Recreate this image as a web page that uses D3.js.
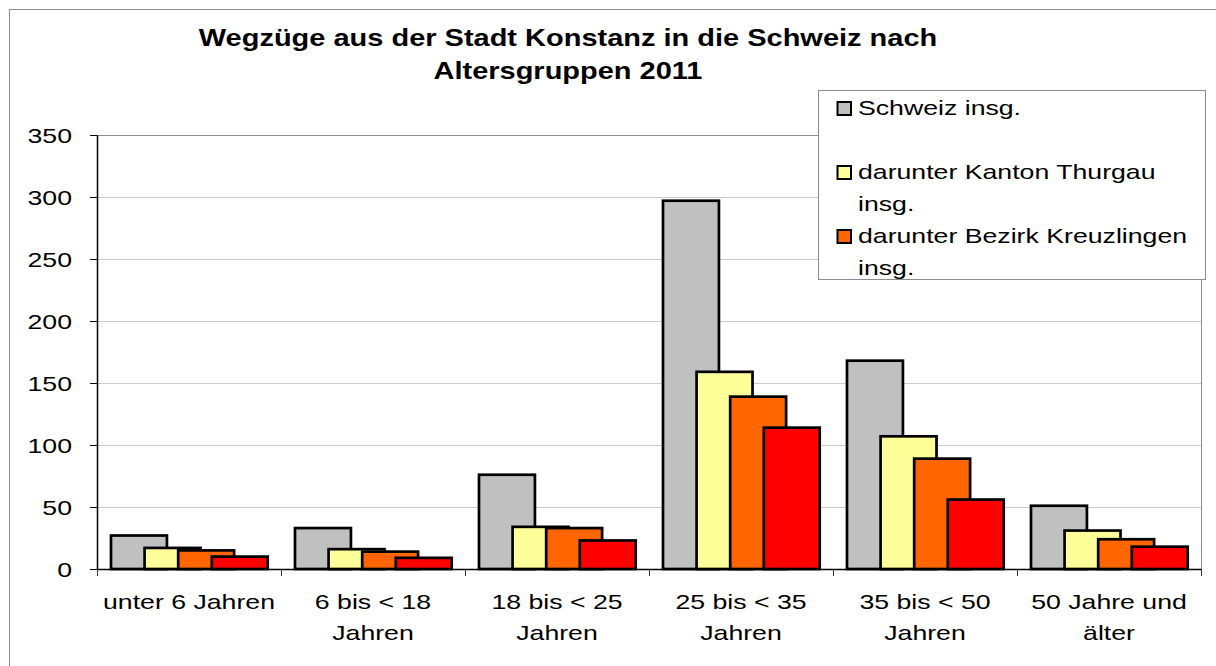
<!DOCTYPE html>
<html>
<head>
<meta charset="utf-8">
<script src="https://cdn.jsdelivr.net/npm/d3@7"></script>
<style>
	html, body { margin: 0; padding: 0; background: #fff; }
	svg { display: block; font-family: "Liberation Sans", Arial, sans-serif; }
</style>
</head>
<body>
<div id="chart"></div>
<script>
// Data
const categories = ['unter 6 Jahren', '6 bis < 18 Jahren', '18 bis < 25 Jahren', '25 bis < 35 Jahren', '35 bis < 50 Jahren', '50 Jahre und älter'];
const categoryLines = [
	['unter 6 Jahren'],
	['6 bis < 18', 'Jahren'],
	['18 bis < 25', 'Jahren'],
	['25 bis < 35', 'Jahren'],
	['35 bis < 50', 'Jahren'],
	['50 Jahre und', 'älter']
];
const seriesNames = ['Schweiz insg.', 'darunter Kanton Thurgau insg.', 'darunter Bezirk Kreuzlingen insg.', 'darunter Stadt Kreuzlingen'];
const schweiz = [27, 33, 76, 297, 168, 51];
const thurgau = [17, 16, 34, 159, 107, 31];
const bezirkKreuzlingen = [15, 14, 33, 139, 89, 24];
const stadtKreuzlingen = [10, 9, 23, 114, 56, 18];
const seriesColors = ['#c0c0c0', '#ffff99', '#ff6600', '#ff0000'];
const yTicks = [0, 50, 100, 150, 200, 250, 300, 350];
// Legend shows only the first three series (the fourth is cut off in the original)
const legendLines = [
	{ series: 0, lines: ['Schweiz insg.'] },
	{ series: null, lines: [''] },
	{ series: 1, lines: ['darunter Kanton Thurgau', 'insg.'] },
	{ series: 2, lines: ['darunter Bezirk Kreuzlingen', 'insg.'] }
];

const seriesValues = [schweiz, thurgau, bezirkKreuzlingen, stadtKreuzlingen];

const width = 1216, height = 666;
const sx = 1.27; // the source picture is stretched sideways, text included
const fontSize = 21;
const plot = { left: 97, right: 1201, top: 135, bottom: 569 };

const svg = d3.select('#chart').append('svg')
	.attr('width', width)
	.attr('height', height);

// Outer chart border (runs off the right and bottom edge)
svg.append('rect')
	.attr('x', 9.5).attr('y', 9.5)
	.attr('width', width + 20).attr('height', height + 20)
	.attr('fill', '#fff')
	.attr('stroke', '#8c8c8c');

const x = d3.scaleBand()
	.domain(categories)
	.range([plot.left, plot.right]);

const y = d3.scaleLinear()
	.domain([0, 350])
	.range([plot.bottom, plot.top]);

// Gridlines
svg.append('g')
	.selectAll('line')
	.data(yTicks.filter(d => d > 0 && d < 350))
	.join('line')
	.attr('x1', plot.left).attr('x2', plot.right)
	.attr('y1', d => Math.round(y(d)) + 0.5).attr('y2', d => Math.round(y(d)) + 0.5)
	.attr('stroke', '#cbcbcb');

// Plot area border top + right
svg.append('path')
	.attr('d', `M${plot.left},${plot.top + 0.5}H${plot.right + 0.5}V${plot.bottom}`)
	.attr('fill', 'none')
	.attr('stroke', '#8c8c8c');

// Bars: overlapping, drawn series by series
const bw = x.bandwidth();
const barOffset = 0.076, barStep = 0.1826, barWidth = 0.304;

seriesValues.forEach((values, si) => {
	svg.append('g')
		.selectAll('rect')
		.data(values)
		.join('rect')
		.attr('x', (d, i) => x(categories[i]) + bw * (barOffset + si * barStep))
		.attr('y', d => y(d))
		.attr('width', bw * barWidth)
		.attr('height', d => y(0) - y(d))
		.attr('fill', seriesColors[si])
		.attr('stroke', '#000')
		.attr('stroke-width', 2.7);
});

// Y axis
const yAxis = svg.append('g')
	.attr('transform', `translate(${plot.left},0)`)
	.call(d3.axisLeft(y).tickValues(yTicks).tickSize(7).tickSizeOuter(0));
yAxis.select('.domain').attr('stroke', '#000').attr('stroke-width', 1.5);
yAxis.selectAll('.tick line').attr('stroke', '#000');
yAxis.selectAll('.tick text')
	.attr('x', null).attr('dy', null)
	.attr('transform', `translate(-25,7.5) scale(${sx},1)`)
	.attr('font-size', fontSize)
	.attr('font-family', '"Liberation Sans", Arial, sans-serif')
	.attr('fill', '#000');

// X axis: ticks at category boundaries
const xBounds = d3.scaleLinear().domain([0, categories.length]).range([plot.left, plot.right]);
const xAxis = svg.append('g')
	.attr('transform', `translate(0,${plot.bottom})`)
	.call(d3.axisBottom(xBounds).ticks(categories.length).tickSize(7).tickSizeOuter(0).tickFormat(''));
xAxis.select('.domain').attr('stroke', '#000').attr('stroke-width', 1.5);
xAxis.selectAll('.tick line').attr('stroke', '#333');

// Category labels
svg.append('g')
	.selectAll('g')
	.data(categoryLines)
	.join('g')
	.each(function(lines, i) {
		const cx = x(categories[i]) + bw / 2;
		d3.select(this).selectAll('text')
			.data(lines)
			.join('text')
			.attr('transform', (d, j) => `translate(${cx},${609 + j * 31}) scale(${sx},1)`)
			.attr('text-anchor', 'middle')
			.attr('font-size', fontSize)
			.text(d => d);
	});

// Title
const titleLines = ['Wegzüge aus der Stadt Konstanz in die Schweiz nach', 'Altersgruppen 2011'];
svg.append('g')
	.selectAll('text')
	.data(titleLines)
	.join('text')
	.attr('transform', (d, i) => `translate(568,${46 + i * 33}) scale(1.26,1)`)
	.attr('text-anchor', 'middle')
	.attr('font-size', 23)
	.attr('font-weight', 'bold')
	.text(d => d);

// Legend
const legend = svg.append('g');
legend.append('rect')
	.attr('x', 818.5).attr('y', 90.5)
	.attr('width', 387).attr('height', 189)
	.attr('fill', '#fff')
	.attr('stroke', '#8c8c8c');

let baseline = 115;
const lineHeight = 32;
legendLines.forEach(entry => {
	if (entry.series !== null) {
		legend.append('rect')
			.attr('x', 837.5).attr('y', baseline - 13)
			.attr('width', 13.5).attr('height', 13)
			.attr('fill', seriesColors[entry.series])
			.attr('stroke', '#000')
			.attr('stroke-width', 2);
	}
	entry.lines.forEach(line => {
		legend.append('text')
			.attr('transform', `translate(858,${baseline}) scale(${sx},1)`)
			.attr('font-size', fontSize)
			.text(line);
		baseline += lineHeight;
	});
});
</script>
</body>
</html>
